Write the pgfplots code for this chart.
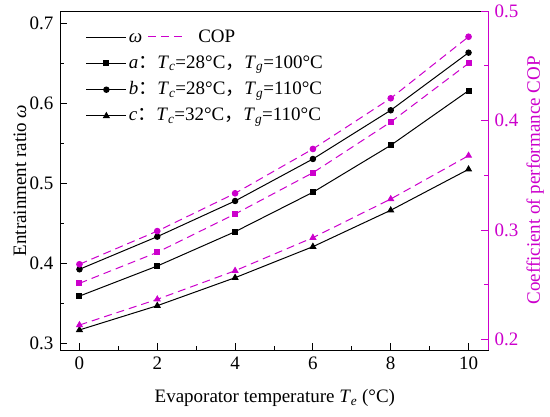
\documentclass[border=0pt]{standalone}
\usepackage{fontspec}
\setmainfont{Liberation Serif}
\newfontfamily\cjk{Noto Sans CJK SC}
\usepackage{pgfplots}
\pgfplotsset{compat=1.18}
\definecolor{mag}{RGB}{204,0,204}

\pgfplotstableread{
x a b c
0 0.3590 0.3925 0.3167
2 0.3966 0.4333 0.3470
4 0.4395 0.4779 0.3820
6 0.4888 0.5304 0.4208
8 0.5475 0.5913 0.4663
10 0.6158 0.6633 0.5175
}\omegadata
\pgfplotstableread{
x a b c
0 0.2513 0.2687 0.2132
2 0.2796 0.2990 0.2367
4 0.3146 0.3335 0.2628
6 0.3523 0.3740 0.2930
8 0.3986 0.4203 0.3283
10 0.4522 0.4765 0.3679
}\copdata

\begin{document}
\fontsize{19}{23}\selectfont
\begin{tikzpicture}
\begin{axis}[
  scale only axis, width=428pt, height=339pt,
  xmin=-0.5, xmax=10.5, ymin=0.2916, ymax=0.7154,
  xtick={0,2,4,6,8,10}, minor xtick={1,3,5,7,9},
  ytick={0.3,0.4,0.5,0.6,0.7}, minor ytick={0.35,0.45,0.55,0.65},
  xtick pos=bottom, ytick pos=left,
  tick align=inside,
  major tick length=7pt, minor tick length=4pt,
  axis line style={line width=0.9pt},
  every tick/.style={line width=0.9pt, black},
  /pgf/number format/assume math mode=true,
  yticklabel style={/pgf/number format/.cd, fixed, fixed zerofill, precision=1},
  xlabel={Evaporator temperature \textit{T}\textsubscript{\textit{e}} (°C)},
  ylabel={Entrainment ratio \textit{ω}},
  xlabel style={at={(axis description cs:0.502,-0.1416)}, anchor=center},
  ylabel style={at={(axis description cs:-0.0935,0.5)}, anchor=center},
  legend style={draw=none, fill=none, at={(axis description cs:0.053,0.957)}, anchor=north west,
    row sep=6.5pt, font=\fontsize{19}{23}\selectfont},
  legend cell align=left,
  legend image code/.code={\draw[mark repeat=2,mark phase=2] plot coordinates {(0pt,0pt)(20pt,0pt)(40pt,0pt)};},
]
\coordinate (sw) at (rel axis cs:0,0);
\coordinate (ne) at (rel axis cs:1,1);
\addlegendimage{black, line width=1pt}
\addlegendentry{\textit{ω}\hspace{6pt}\textcolor{mag}{\rule[0.3em]{8pt}{1pt}\hspace{5pt}\rule[0.3em]{8pt}{1pt}\hspace{5pt}\rule[0.3em]{8pt}{1pt}}\hspace{16pt}COP}
\addplot[black, line width=1pt, mark=square*, mark size=2.5pt] table[x=x,y=a] {\omegadata};
\addlegendentry{\textit{a}{\cjk ：}\textit{T}\textsubscript{\textit{c}}=28°C{\cjk ，}\textit{T}\textsubscript{\textit{g}}=100°C}
\addplot[black, line width=1pt, mark=*, mark size=2.7pt] table[x=x,y=b] {\omegadata};
\addlegendentry{\textit{b}{\cjk ：}\textit{T}\textsubscript{\textit{c}}=28°C{\cjk ，}\textit{T}\textsubscript{\textit{g}}=110°C}
\addplot[black, line width=1pt, mark=triangle*, mark size=3.2pt] table[x=x,y=c] {\omegadata};
\addlegendentry{\textit{c}{\cjk ：}\textit{T}\textsubscript{\textit{c}}=32°C{\cjk ，}\textit{T}\textsubscript{\textit{g}}=110°C}
\end{axis}
\begin{axis}[
  scale only axis, width=428pt, height=339pt,
  xmin=-0.5, xmax=10.5, ymin=0.1904, ymax=0.5,
  axis x line=none, axis y line*=right,
  ytick={0.2,0.3,0.4,0.5}, minor ytick={0.25,0.35,0.45},
  tick align=inside,
  major tick length=7pt, minor tick length=4pt,
  y axis line style={mag, line width=0.9pt, -},
  every tick/.style={line width=0.9pt, mag},
  yticklabel style={mag, /pgf/number format/.cd, fixed, fixed zerofill, precision=1},
  /pgf/number format/assume math mode=true,
  ylabel={Coefficient of performance COP},
  ylabel style={mag, at={(axis description cs:1.11,0.5)}, anchor=center, rotate=0},
]
\addplot[mag, line width=1pt, dash pattern=on 8pt off 5pt, mark=square*, mark size=2.5pt, mark options={solid}] table[x=x,y=a] {\copdata};
\addplot[mag, line width=1pt, dash pattern=on 8pt off 5pt, mark=*, mark size=2.8pt, mark options={solid}] table[x=x,y=b] {\copdata};
\addplot[mag, line width=1pt, dash pattern=on 8pt off 5pt, mark=triangle*, mark size=3.2pt, mark options={solid}] table[x=x,y=c] {\copdata};
\end{axis}
\pgfresetboundingbox
\path[use as bounding box] ([shift={(-60pt,-66pt)}]sw) rectangle ([shift={(62pt,11pt)}]ne);
\end{tikzpicture}
\end{document}
